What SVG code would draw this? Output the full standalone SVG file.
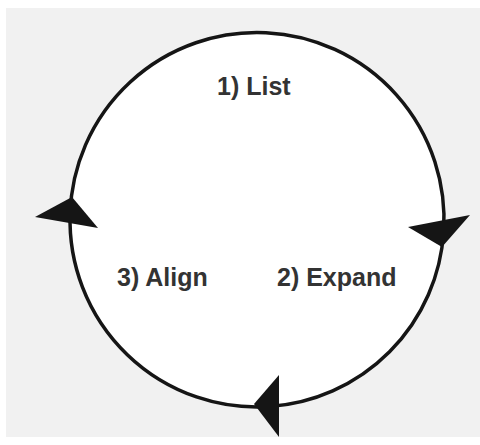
<svg xmlns="http://www.w3.org/2000/svg" width="480" height="445" viewBox="0 0 480 445">
  <style>
    .arc { fill: none; stroke: #151515; stroke-width: 3.5; }
    .head { fill: #151515; }
    .label { font-family: "Liberation Sans", Arial, sans-serif; font-weight: bold; font-size: 25px; fill: #333333; }
  </style>
  <rect x="0" y="0" width="480" height="445" fill="#ffffff"/>
  <rect x="6" y="8" width="474" height="429" fill="#f1f1f1"/>
  <circle cx="257" cy="220" r="187" fill="#ffffff"/>

  <!-- cycle connectors: three arcs with their heads -->
  <g id="connectors">
    <path class="arc" d="M70.1,214 A187,187 0 1 1 443.6,232"/>
    <path class="arc" d="M443.6,232 A187,187 0 0 1 270,406.5"/>
    <path class="arc" d="M270,406.5 A187,187 0 0 1 70.1,214"/>
    <polygon class="head" points="35,217 72,197 98,228"/>
    <polygon class="head" points="408,227 470,215 442,247"/>
    <polygon class="head" points="254,404 279,375 279,437"/>
  </g>

  <g id="step-list">
    <text class="label" x="217" y="95">1) List</text>
  </g>
  <g id="step-expand">
    <text class="label" x="277" y="286">2) Expand</text>
  </g>
  <g id="step-align">
    <text class="label" x="117" y="286">3) Align</text>
  </g>
</svg>
